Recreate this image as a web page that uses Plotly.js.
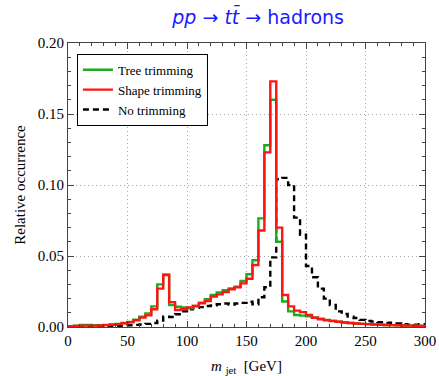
<!DOCTYPE html>
<html>
<head>
<meta charset="utf-8">
<script src="https://cdn.plot.ly/plotly-3.0.1.min.js"></script>
<style>html,body{margin:0;padding:0;background:#fff;}#chart{width:439px;height:376px;}</style>
</head>
<body>
<div id="chart"></div>
<script>
// bin edges (GeV), 5 GeV bins from 0 to 300
const binEdges = [0,5,10,15,20,25,30,35,40,45,50,55,60,65,70,75,80,85,90,95,100,105,110,115,120,125,130,135,140,145,150,155,160,165,170,175,180,185,190,195,200,205,210,215,220,225,230,235,240,245,250,255,260,265,270,275,280,285,290,295,300];

const treeTrimming = [0.0006,0.0010,0.0014,0.0014,0.0013,0.0013,0.0015,0.0018,0.0022,0.0028,0.0036,0.0052,0.0072,0.0095,0.0145,0.0300,0.0370,0.0155,0.0143,0.0138,0.0131,0.0148,0.0172,0.0195,0.0225,0.0244,0.0260,0.0272,0.0284,0.0324,0.0371,0.0470,0.0765,0.1280,0.1600,0.0600,0.0180,0.0110,0.0085,0.0080,0.0075,0.0068,0.0058,0.0050,0.0043,0.0037,0.0032,0.0028,0.0025,0.0022,0.0020,0.0018,0.0016,0.0014,0.0013,0.0012,0.0011,0.0010,0.0009,0.0008];

const shapeTrimming = [0.0005,0.0008,0.0010,0.0010,0.0010,0.0011,0.0013,0.0016,0.0020,0.0026,0.0033,0.0048,0.0066,0.0082,0.0125,0.0270,0.0365,0.0175,0.0120,0.0127,0.0138,0.0148,0.0167,0.0183,0.0214,0.0230,0.0246,0.0265,0.0279,0.0307,0.0340,0.0437,0.0680,0.1230,0.1730,0.0700,0.0225,0.0145,0.0115,0.0105,0.0085,0.0065,0.0055,0.0048,0.0042,0.0037,0.0032,0.0028,0.0025,0.0022,0.0020,0.0018,0.0016,0.0014,0.0013,0.0012,0.0011,0.0010,0.0009,0.0008];

const noTrimming = [0.0002,0.0003,0.0003,0.0004,0.0004,0.0005,0.0006,0.0007,0.0008,0.0010,0.0012,0.0015,0.0018,0.0022,0.0028,0.0045,0.0072,0.0070,0.0090,0.0110,0.0125,0.0135,0.0140,0.0148,0.0152,0.0160,0.0165,0.0158,0.0165,0.0170,0.0178,0.0160,0.0210,0.0280,0.0490,0.1040,0.1050,0.1000,0.0770,0.0650,0.0430,0.0350,0.0270,0.0200,0.0155,0.0110,0.0092,0.0073,0.0063,0.0050,0.0042,0.0038,0.0033,0.0028,0.0030,0.0025,0.0020,0.0016,0.0016,0.0020];

const seriesNames = ['Tree trimming','Shape trimming','No trimming'];

function stepY(vals){ return vals.concat([vals[vals.length-1]]); }

const serif = 'Liberation Serif';

const traces = [
  {x: binEdges, y: stepY(noTrimming), name: seriesNames[2], type:'scatter', mode:'lines',
   line:{shape:'hv', color:'#000000', width:2.4, dash:'6px,4px'}, legendrank:3},
  {x: binEdges, y: stepY(treeTrimming), name: seriesNames[0], type:'scatter', mode:'lines',
   line:{shape:'hv', color:'#1faa1f', width:2.4}, legendrank:1},
  {x: binEdges, y: stepY(shapeTrimming), name: seriesNames[1], type:'scatter', mode:'lines',
   line:{shape:'hv', color:'#ff1414', width:2.4}, legendrank:2}
];

const layout = {
  width:439, height:376,
  margin:{l:68, r:14, t:43, b:49},
  paper_bgcolor:'#ffffff', plot_bgcolor:'#ffffff',
  title:{text:'<i>pp</i> → <i>t</i><i>t̄</i> → hadrons', x:0.588, xanchor:'center', y:0.955, yanchor:'middle',
         font:{family:'DejaVu Sans', size:19, color:'#1a1aff'}},
  showlegend:true,
  legend:{x:0.025, y:0.962, xanchor:'left', yanchor:'top', bgcolor:'#ffffff', bordercolor:'#000000', borderwidth:1,
          font:{family:serif, size:13, color:'#000'}, tracegroupgap:0, itemwidth:30},
  xaxis:{range:[0,300], tickmode:'array', tickvals:[0,50,100,150,200,250,300], ticktext:['0','50','100','150','200','250','300'],
         ticks:'inside', ticklen:6, tickcolor:'#444', showline:true, linecolor:'#444', linewidth:1, mirror:'allticks',
         showgrid:true, gridcolor:'#a8a8a8', griddash:'1px,3px', gridwidth:1, zeroline:false,
         minor:{dtick:10, ticklen:3, ticks:'inside', tickcolor:'#444', showgrid:false},
         tickfont:{family:serif, size:15, color:'#000'},
         title:{text:'<i>m</i> <sub>jet</sub>  [GeV]', font:{family:serif, size:15, color:'#000'}, standoff:12}},
  yaxis:{range:[0,0.2], tickmode:'array', tickvals:[0,0.05,0.10,0.15,0.20], ticktext:['0.00','0.05','0.10','0.15','0.20'],
         ticks:'inside', ticklen:6, tickcolor:'#444', showline:true, linecolor:'#444', linewidth:1, mirror:'allticks',
         showgrid:true, gridcolor:'#a8a8a8', griddash:'1px,3px', gridwidth:1, zeroline:false,
         minor:{dtick:0.01, ticklen:3, ticks:'inside', tickcolor:'#444', showgrid:false},
         tickfont:{family:serif, size:15, color:'#000'},
         title:{text:'Relative occurrence', font:{family:serif, size:15, color:'#000'}, standoff:8}}
};

Plotly.newPlot('chart', traces, layout, {displayModeBar:false, staticPlot:true});
</script>
</body>
</html>
